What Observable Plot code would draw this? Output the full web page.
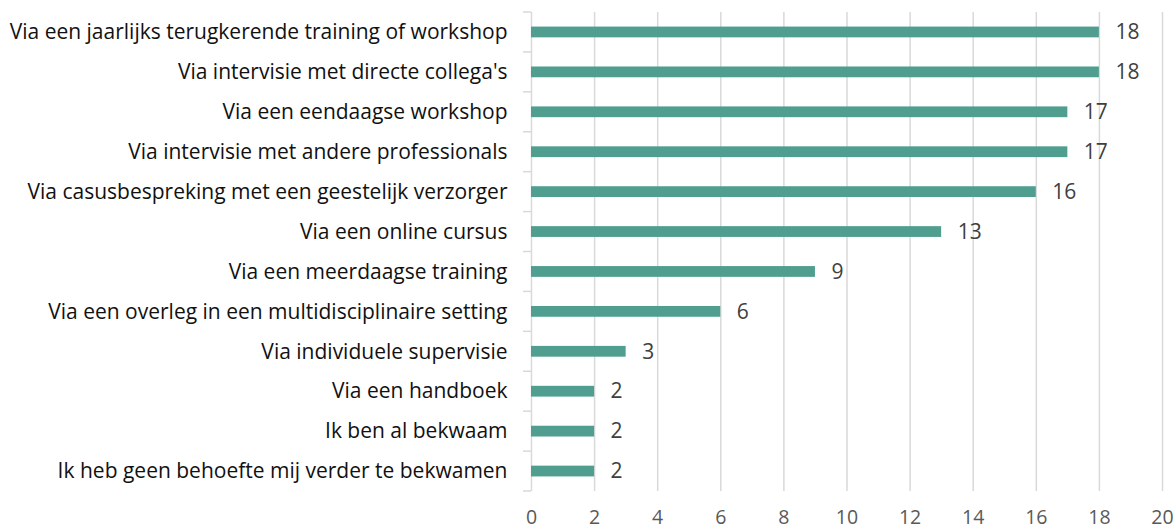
<!DOCTYPE html>
<html><head><meta charset="utf-8">
<script src="https://cdn.jsdelivr.net/npm/d3@7"></script>
<script src="https://cdn.jsdelivr.net/npm/@observablehq/plot@0.6"></script>
<style>
html,body{margin:0;padding:0;background:#fff;}
</style></head>
<body><div id="chart"></div>
<script>
const categories = [
  "Via een jaarlijks terugkerende training of workshop",
  "Via intervisie met directe collega's",
  "Via een eendaagse workshop",
  "Via intervisie met andere professionals",
  "Via casusbespreking met een geestelijk verzorger",
  "Via een online cursus",
  "Via een meerdaagse training",
  "Via een overleg in een multidisciplinaire setting",
  "Via individuele supervisie",
  "Via een handboek",
  "Ik ben al bekwaam",
  "Ik heb geen behoefte mij verder te bekwamen"
];
const values = [18, 18, 17, 17, 16, 13, 9, 6, 3, 2, 2, 2];
const xTicks = [0, 2, 4, 6, 8, 10, 12, 14, 16, 18, 20];

const data = categories.map((c, i) => ({category: c, value: values[i]}));
const font = "'Open Sans', Lato, sans-serif";
const fs = 21;

const chart = Plot.plot({
  width: 1173,
  height: 531,
  marginLeft: 531,
  marginRight: 11,
  marginTop: 12,
  marginBottom: 40,
  style: {fontFamily: font, fontSize: fs + "px", background: "#fff"},
  x: {domain: [0, 20], ticks: xTicks},
  y: {domain: categories, paddingInner: 0.73, paddingOuter: 0.365, round: false},
  marks: [
    Plot.gridX(xTicks.filter(t => t > 0), {stroke: "#d9d9d9", strokeOpacity: 1, strokeWidth: 1.5}),
    Plot.ruleX([0], {stroke: "#d9d9d9", strokeWidth: 1.5}),
    Plot.axisX({ticks: xTicks, tickSize: 0, tickPadding: 19, fill: "#595959", fontSize: 19.5, label: null}),
    Plot.axisY({tickSize: 0, tickPadding: 24, fill: "#111", fontSize: fs, label: null}),
    Plot.barX(data, {x: "value", y: "category", fill: "#4f9e8f"}),
    Plot.text(data, {x: "value", y: "category", text: d => String(d.value), textAnchor: "start", dx: 16, fill: "#404040", fontSize: fs})
  ]
});

// category boundary tick marks on the y axis
const ys = chart.scale("y");
const g = d3.select(chart).append("g").attr("stroke", "#d9d9d9").attr("stroke-width", 1.5);
const bounds = categories.map(c => ys.apply(c) + ys.bandwidth / 2 - ys.step / 2);
bounds.push(ys.apply(categories[categories.length - 1]) + ys.bandwidth / 2 + ys.step / 2);
const x0 = chart.scale("x").apply(0);
bounds.forEach(b => {
  g.append("line").attr("x1", x0 - 8).attr("x2", x0).attr("y1", b).attr("y2", b);
});

document.getElementById("chart").appendChild(chart);
</script>
</body></html>
